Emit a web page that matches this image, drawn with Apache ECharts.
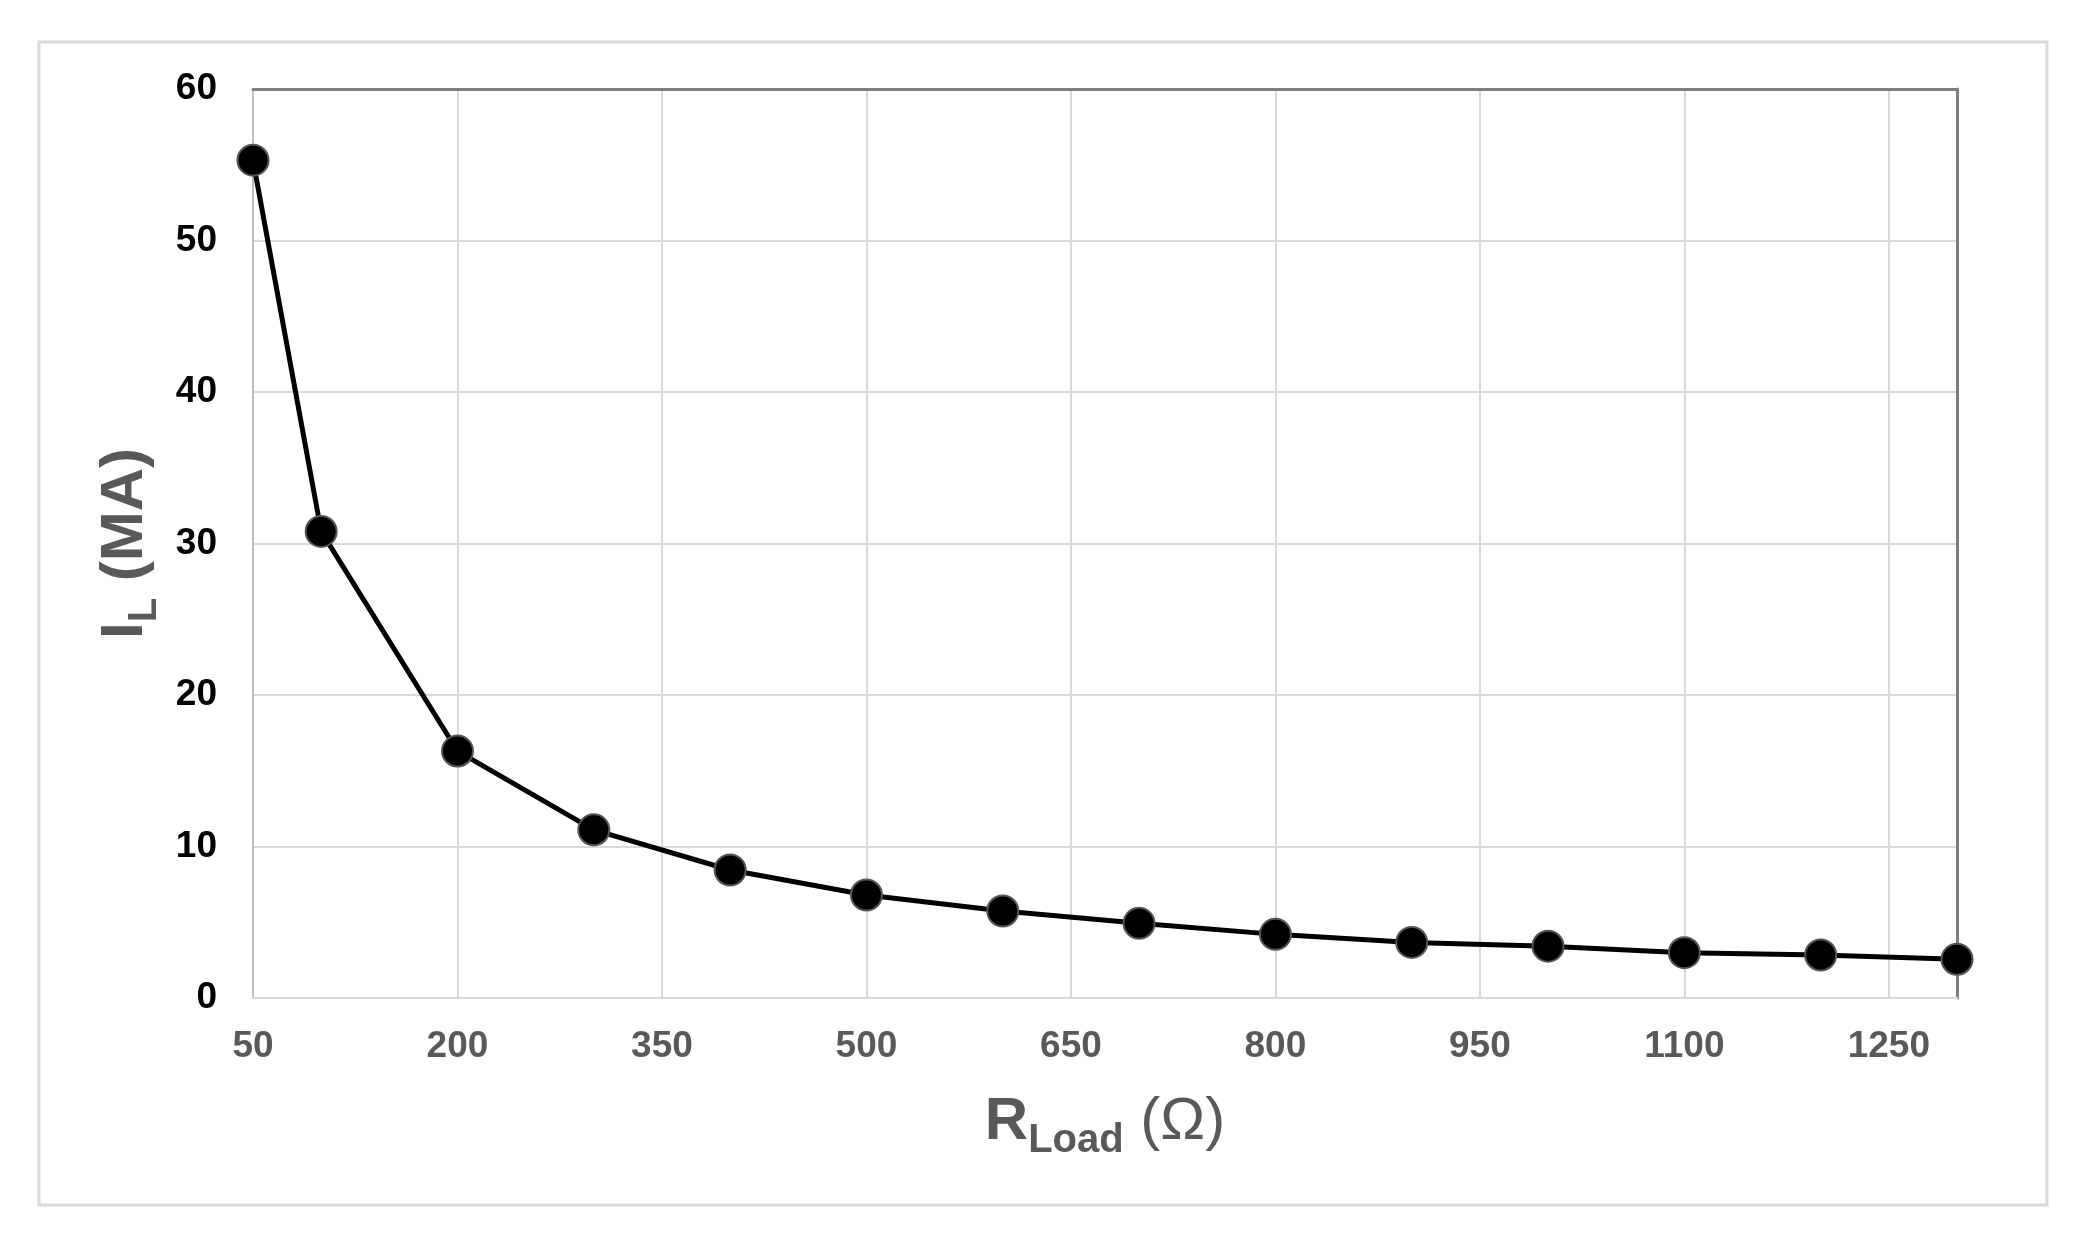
<!DOCTYPE html>
<html>
<head>
<meta charset="utf-8">
<title>IL vs RLoad</title>
<script src="https://cdn.jsdelivr.net/npm/echarts@6/dist/echarts.min.js"></script>
<style>
    html, body { margin: 0; padding: 0; background: #fff; }
    #chart { width: 2092px; height: 1240px; }
</style>
</head>
<body>
<div id="chart"></div>
<script>
    // load resistance (ohm) and load current readings
    const rLoad = [50, 100, 200, 300, 400, 500, 600, 700, 800, 900, 1000, 1100, 1200, 1300];
    const iLoad = [55.3, 30.8, 16.3, 11.1, 8.45, 6.8, 5.74, 4.93, 4.2, 3.67, 3.42, 2.99, 2.84, 2.55];

    // axis ranges / ticks
    const xMin = 50, xMax = 1300, xStep = 150;
    const yMin = 0, yMax = 60, yStep = 10;

    const font = "'Liberation Sans', Arial, sans-serif";
    const gridGray = '#d9d9d9';
    const titleRich = {
        main: { fontSize: 60, fontWeight: 'bold', color: '#595959', fontFamily: font, lineHeight: 60 },
        sub: { fontSize: 40, fontWeight: 'bold', color: '#595959', fontFamily: font, lineHeight: 60, padding: [38, 0, 0, 0] },
        paren: { fontSize: 60, fontWeight: 'normal', color: '#595959', fontFamily: font, lineHeight: 60 }
    };

    let myChart = echarts.init(document.getElementById('chart'));
    let option = {
        backgroundColor: '#fff',
        animation: false,
        // light frame round the whole chart
        graphic: [{
            type: 'rect',
            shape: { x: 39, y: 42, width: 2008, height: 1163 },
            style: { fill: 'none', stroke: gridGray, lineWidth: 3 }
        }],
        grid: {
            left: 253,
            top: 89,
            right: 135,
            bottom: 242
        },
        xAxis: [
            {
                type: 'value',
                min: xMin,
                max: xMax,
                interval: xStep,
                name: '{main|R}{sub|Load}{paren| (Ω)}',
                nameLocation: 'middle',
                nameGap: 94,
                nameTextStyle: { rich: titleRich },
                axisLine: { show: true, onZero: false, lineStyle: { color: gridGray, width: 2 } },
                axisTick: { show: false },
                axisLabel: {
                    showMaxLabel: false,
                    margin: 30,
                    fontSize: 37,
                    fontWeight: 'bold',
                    color: '#595959',
                    fontFamily: font,
                    formatter: v => String(v)
                },
                splitLine: { show: true, lineStyle: { color: gridGray, width: 2 } }
            },
            {
                // dark top border
                type: 'value',
                position: 'top',
                min: xMin,
                max: xMax,
                interval: xStep,
                axisLine: { show: true, onZero: false, lineStyle: { color: '#7f7f7f', width: 3 } },
                axisTick: { show: false },
                axisLabel: { show: false },
                splitLine: { show: false }
            }
        ],
        yAxis: [
            {
                type: 'value',
                min: yMin,
                max: yMax,
                interval: yStep,
                name: '{main|I}{sub|L}{main| (MA)}',
                nameLocation: 'middle',
                nameGap: 94,
                nameTextStyle: { rich: titleRich },
                axisLine: { show: true, onZero: false, lineStyle: { color: '#bfbfbf', width: 2 } },
                axisTick: { show: false },
                axisLabel: {
                    margin: 36,
                    fontSize: 37,
                    fontWeight: 'bold',
                    color: '#000',
                    fontFamily: font
                },
                splitLine: { show: true, lineStyle: { color: gridGray, width: 2 } }
            },
            {
                // dark right border
                type: 'value',
                position: 'right',
                min: yMin,
                max: yMax,
                interval: yStep,
                axisLine: { show: true, onZero: false, lineStyle: { color: '#7f7f7f', width: 3 } },
                axisTick: { show: false },
                axisLabel: { show: false },
                splitLine: { show: false }
            }
        ],
        series: [
            {
                type: 'line',
                data: rLoad.map((r, i) => [r, iLoad[i]]),
                clip: false,
                symbol: 'circle',
                symbolSize: 31,
                lineStyle: { color: '#000', width: 5 },
                itemStyle: { color: '#000', borderColor: '#555', borderWidth: 2 },
                z: 5
            }
        ]
    };
    myChart.setOption(option);
</script>
</body>
</html>
